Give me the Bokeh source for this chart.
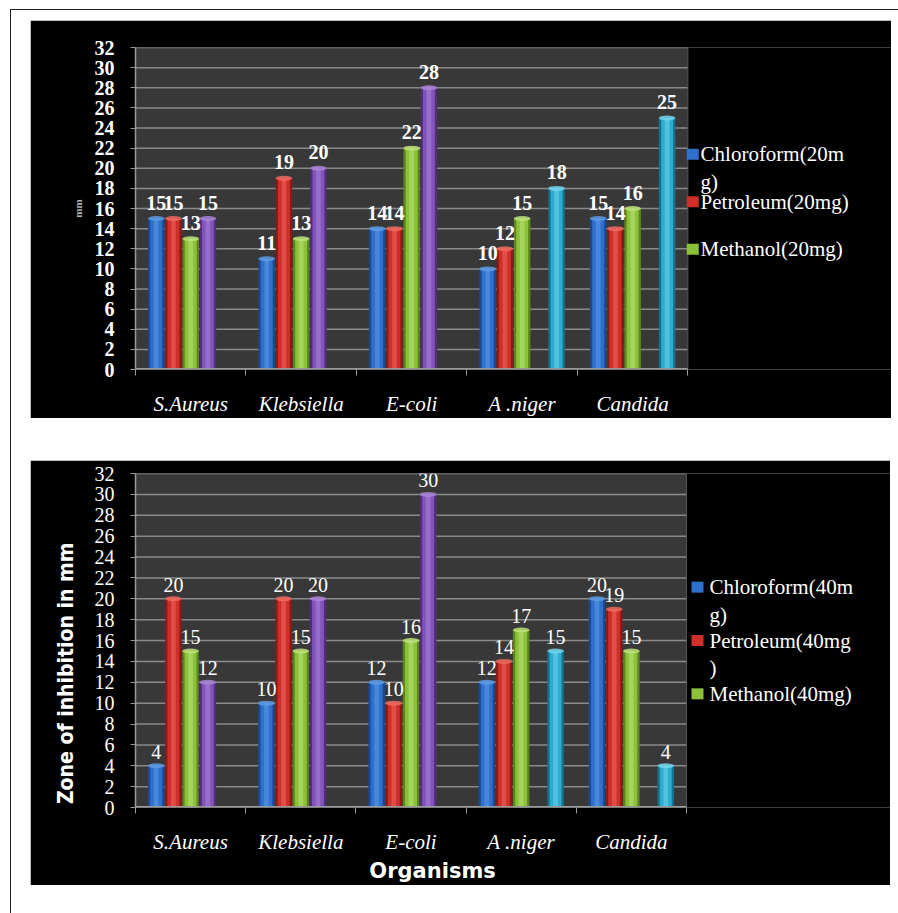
from bokeh.plotting import figure
from bokeh.models import ColumnDataSource, FixedTicker, LabelSet, Range1d
from bokeh.layouts import column
from bokeh.embed import file_html
from bokeh.resources import INLINE

# ---------------- data ----------------
organisms = ["S.Aureus", "Klebsiella", "E-coli", "A .niger", "Candida"]
y_ticks = list(range(0, 33, 2))

chloroform_20 = [15, 11, 14, 10, 15]
petroleum_20 = [15, 19, 14, 12, 14]
methanol_20 = [13, 13, 22, 15, 16]
series4_20 = [15, 20, 28, None, None]
series5_20 = [None, None, None, 18, 25]

chloroform_40 = [4, 10, 12, 12, 20]
petroleum_40 = [20, 20, 10, 14, 19]
methanol_40 = [15, 15, 16, 17, 15]
series4_40 = [12, 20, 30, None, None]
series5_40 = [None, None, None, 15, 4]

legend_20 = ["Chloroform(20m\ng)", "Petroleum(20mg)", "Methanol(20mg)"]
legend_40 = ["Chloroform(40m\ng)", "Petroleum(40mg\n)", "Methanol(40mg)"]

y_title_top = "mm"
y_title_bottom = "Zone of inhibition in mm"
x_title_bottom = "Organisms"

# ---------------- styles ----------------
SHADES = [
    ("#1b4a94", "#2f70cc", "#5d9be4"),   # blue
    ("#8a1b17", "#cf2f29", "#ee6a60"),   # red
    ("#5a861c", "#8bc23a", "#bde27a"),   # green
    ("#512d7a", "#8254bb", "#a985d8"),   # purple
    ("#16728a", "#2cacd0", "#74d6ee"),   # cyan
]
SLOT = 0.156
BAR_W = 0.15
SERIF = "Liberation Serif"
NARROW = "DejaVu Sans Condensed"
WIDE = "DejaVu Sans"
NBSP = "\u00a0"
N_CAT = len(organisms)
Y_MAX = 32


def make_chart(series, legend_labels, width, height, borders, gray_w, y_title, x_title,
               tick_bold, label_bold, label_offset, leg):
    frame_w = width - borders[0]
    frame_h = height - borders[1] - borders[2]
    x_end = N_CAT * frame_w / gray_w
    px_x = N_CAT / gray_w
    px_y = Y_MAX / frame_h
    p = figure(width=width, height=height, output_backend="svg", toolbar_location=None,
               x_range=Range1d(0, x_end), y_range=Range1d(0, Y_MAX),
               background_fill_color="black", border_fill_color="black",
               min_border_left=borders[0], min_border_right=0,
               min_border_top=borders[1], min_border_bottom=borders[2])
    p.outline_line_color = None
    p.grid.visible = False

    # plot area (grey) and grid lines
    p.quad(left=[0], right=[N_CAT], bottom=[0], top=[Y_MAX], fill_color="#383838", line_color=None)
    p.segment(x0=[0] * len(y_ticks), x1=[N_CAT] * len(y_ticks), y0=y_ticks, y1=y_ticks,
              line_color="#8a8a8a", line_width=1.5)
    p.segment(x0=[N_CAT], x1=[N_CAT], y0=[0], y1=[Y_MAX], line_color="#555555", line_width=1)

    for k, values in enumerate(series):
        xs = [i + 0.5 + (k - 2) * SLOT for i, v in enumerate(values) if v is not None]
        ys = [v for v in values if v is not None]
        src = ColumnDataSource(dict(x=xs, top=ys, label=[str(v) for v in ys]))
        dark, mid, light = SHADES[k]
        p.vbar(x="x", top="top", bottom=0, width=BAR_W, source=src,
               fill_color=dark, line_color=None)
        p.vbar(x="x", top="top", bottom=0, width=BAR_W * 0.72, source=src,
               fill_color=mid, line_color=None)
        p.vbar(x="x", top="top", bottom=0, width=BAR_W * 0.28, source=src,
               fill_color=light, fill_alpha=0.55, line_color=None)
        p.ellipse(x="x", y="top", width=BAR_W, height=5, height_units="screen", source=src,
                  fill_color=light, fill_alpha=0.85, line_color=None)
        p.add_layout(LabelSet(x="x", y="top", text="label", source=src,
                              text_align="center", text_baseline="bottom", y_offset=label_offset,
                              text_color="white", text_font=SERIF,
                              text_font_size="20px",
                              text_font_style="bold" if label_bold else "normal"))

    # legend (drawn in the black area right of the grey plot area)
    start, pitch, line_h, mark_dx, text_dx = leg
    lx, ly, lt, mx, my, mc = [], [], [], [], [], []
    for k, lab in enumerate(legend_labels):
        y0 = start + k * pitch
        mx.append(N_CAT + mark_dx * px_x)
        my.append(Y_MAX - y0 * px_y)
        mc.append(SHADES[k][1])
        for j, line in enumerate(lab.split("\n")):
            lx.append(N_CAT + text_dx * px_x)
            ly.append(Y_MAX - (y0 + j * line_h) * px_y)
            lt.append(line)
    p.rect(x=mx, y=my, width=12, height=11, width_units="screen", height_units="screen",
           fill_color=mc, line_color=None)
    leg_src = ColumnDataSource(dict(x=lx, y=ly, text=lt))
    p.add_layout(LabelSet(x="x", y="y", text="text", source=leg_src,
                          text_color="white", text_font=SERIF, text_font_size="21px",
                          text_baseline="middle", text_align="left"))

    # x axis line only under the grey area
    p.segment(x0=[0], x1=[N_CAT], y0=[0], y1=[0], line_color="#9a9a9a", line_width=3)

    xa = p.xaxis[0]
    xa.ticker = FixedTicker(ticks=[i + 0.5 for i in range(N_CAT)],
                            minor_ticks=list(range(N_CAT + 1)))
    xa.major_label_overrides = {i + 0.5: organisms[i] for i in range(N_CAT)}
    xa.major_tick_line_color = None
    xa.minor_tick_line_color = "#9a9a9a"
    xa.minor_tick_out = 6
    xa.minor_tick_in = 0
    xa.axis_line_color = None
    xa.major_label_text_color = "white"
    xa.major_label_text_font = SERIF
    xa.major_label_text_font_style = "italic"
    xa.major_label_text_font_size = "21px"
    xa.major_label_standoff = 16
    if x_title:
        xa.axis_label = x_title
        xa.axis_label_text_font = WIDE
        xa.axis_label_text_font_style = "bold"
        xa.axis_label_text_font_size = "21px"
        xa.axis_label_text_color = "white"
        xa.axis_label_standoff = 2

    ya = p.yaxis[0]
    ya.ticker = FixedTicker(ticks=y_ticks)
    ya.minor_tick_line_color = None
    ya.major_tick_line_color = "#9a9a9a"
    ya.major_tick_out = 5
    ya.major_tick_in = 0
    ya.axis_line_color = "#9a9a9a"
    ya.axis_line_width = 1.5
    ya.major_label_text_color = "white"
    ya.major_label_text_font = SERIF
    ya.major_label_text_font_size = "20px"
    ya.major_label_text_font_style = "bold" if tick_bold else "normal"
    ya.major_label_standoff = 16
    ya.axis_label = y_title[0]
    ya.axis_label_text_font = y_title[1]
    ya.axis_label_text_font_size = y_title[2]
    ya.axis_label_text_font_style = "bold"
    ya.axis_label_text_color = y_title[3]
    ya.axis_label_standoff = y_title[4]
    return p


p1 = make_chart([chloroform_20, petroleum_20, methanol_20, series4_20, series5_20], legend_20,
                861, 398, (85, 27, 39), 567,
                (y_title_top, SERIF, "11px", "#b0b0b0", 8), None, True, True, 9,
                (110, 49, 29, 5, 13))
p2 = make_chart([chloroform_40, petroleum_40, methanol_40, series4_40, series5_40], legend_40,
                860, 425, (105, 13, 77), 551,
                (y_title_bottom + NBSP * 10, NARROW, "21px", "white", 14),
                x_title_bottom + NBSP * 22, False, False, 7,
                (114, 53.5, 28, 11, 23))

p1.margin = (10, 0, 0, 19)
p2.margin = (42, 0, 0, 19)

page = column(p1, p2, width=888, height=904, margin=(9, 0, 0, 10),
              styles={"border-top": "1px solid #222", "border-left": "1px solid #222",
                      "background-color": "white"})

open("out.html", "w").write(file_html(page, INLINE))
